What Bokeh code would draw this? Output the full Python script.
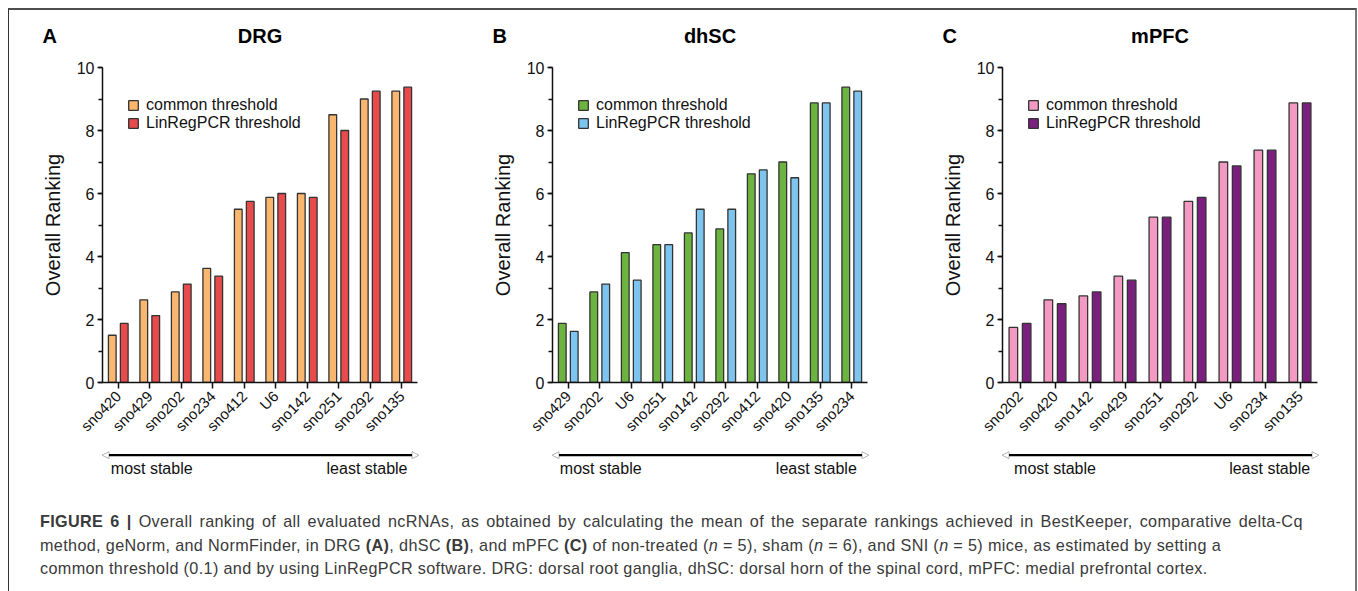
import math
from bokeh.plotting import figure
from bokeh.models import (FactorRange, Range1d, SingleIntervalTicker, Legend, LegendItem,
                          Arrow, NormalHead, Div, ColumnDataSource, Spacer)
from bokeh.core.properties import value
from bokeh.transform import dodge
from bokeh.layouts import row, column
from bokeh.embed import file_html
from bokeh.resources import INLINE

# ---------------- data ----------------
drg_genes = ["sno420", "sno429", "sno202", "sno234", "sno412", "U6", "sno142", "sno251", "sno292", "sno135"]
drg_common = [1.5, 2.625, 2.875, 3.625, 5.5, 5.875, 6.0, 8.5, 9.0, 9.25]
drg_linreg = [1.875, 2.125, 3.125, 3.375, 5.75, 6.0, 5.875, 8.0, 9.25, 9.375]

dhsc_genes = ["sno429", "sno202", "U6", "sno251", "sno142", "sno292", "sno412", "sno420", "sno135", "sno234"]
dhsc_common = [1.875, 2.875, 4.125, 4.375, 4.75, 4.875, 6.625, 7.0, 8.875, 9.375]
dhsc_linreg = [1.625, 3.125, 3.25, 4.375, 5.5, 5.5, 6.75, 6.5, 8.875, 9.25]

mpfc_genes = ["sno202", "sno420", "sno142", "sno429", "sno251", "sno292", "U6", "sno234", "sno135"]
mpfc_common = [1.75, 2.625, 2.75, 3.375, 5.25, 5.75, 7.0, 7.375, 8.875]
mpfc_linreg = [1.875, 2.5, 2.875, 3.25, 5.25, 5.875, 6.875, 7.375, 8.875]

panel_letters = ["A", "B", "C"]
panel_titles = ["DRG", "dhSC", "mPFC"]
series_labels = ["common threshold", "LinRegPCR threshold"]
y_axis_label = "Overall Ranking"
stability_labels = ["most stable", "least stable"]

# ---------------- layout constants (pixels) ----------------
FONT = "Liberation Sans"
OUTLINE = "#333333"
INK = "#111111"
CONTENT_W = 1346
FRAME_W, FRAME_H = 315, 315
B_LEFT, B_TOP, B_BOTTOM = 93, 12, 58
PANEL_W = [450, 450, 446]
TITLE_H, ARROW_H, CAP_H = 45, 48, 101
Y_MAX = 10

frame_lefts = []
acc = 0
for w in PANEL_W:
    frame_lefts.append(acc + B_LEFT)
    acc += w


def panel(genes, common, linreg, c1, c2, border_right):
    p = figure(x_range=FactorRange(factors=genes), y_range=Range1d(0, Y_MAX),
               frame_width=FRAME_W, frame_height=FRAME_H,
               min_border_left=B_LEFT, min_border_right=border_right,
               min_border_top=B_TOP, min_border_bottom=B_BOTTOM,
               output_backend="svg", toolbar_location=None, tools="", title=None)
    p.outline_line_color = None
    p.xgrid.visible = False
    p.ygrid.visible = False

    src = ColumnDataSource(dict(gene=genes, common=common, linreg=linreg))
    r1 = p.vbar(x=dodge("gene", -0.19, range=p.x_range), top="common", width=0.245, source=src,
                fill_color=c1, line_color=OUTLINE, line_width=1.3)
    r2 = p.vbar(x=dodge("gene", 0.19, range=p.x_range), top="linreg", width=0.245, source=src,
                fill_color=c2, line_color=OUTLINE, line_width=1.3)

    for ax in (p.xaxis[0], p.yaxis[0]):
        ax.axis_line_color = INK
        ax.axis_line_width = 1.5
        ax.major_tick_line_color = INK
        ax.major_tick_line_width = 1.5
        ax.minor_tick_line_color = INK
        ax.minor_tick_line_width = 1.5
        ax.major_tick_in = 0
        ax.minor_tick_in = 0
        ax.major_label_text_font = FONT
        ax.major_label_text_color = INK
    p.yaxis.ticker = SingleIntervalTicker(interval=2, num_minor_ticks=2)
    p.yaxis.major_tick_out = 5
    p.yaxis.minor_tick_out = 4
    p.yaxis.major_label_text_font_size = "16px"
    p.yaxis.major_label_standoff = 3
    p.yaxis.axis_label = y_axis_label
    p.yaxis.axis_label_text_font = FONT
    p.yaxis.axis_label_text_font_size = "20px"
    p.yaxis.axis_label_text_font_style = "normal"
    p.yaxis.axis_label_text_color = INK
    p.yaxis.axis_label_standoff = 10

    p.xaxis.major_tick_out = 6
    p.xaxis.minor_tick_out = 0
    p.xaxis.major_label_orientation = math.pi / 4
    p.xaxis.major_label_text_font_size = "15px"
    p.xaxis.major_label_standoff = 5

    legend = Legend(items=[LegendItem(label=series_labels[0], renderers=[r1]),
                           LegendItem(label=series_labels[1], renderers=[r2])],
                    location=(25, FRAME_H - 64.5), padding=0, margin=0, spacing=0,
                    glyph_width=12, glyph_height=12, label_height=18, label_standoff=7,
                    label_text_font=FONT, label_text_font_size="16px", label_text_color=INK,
                    border_line_color=None, background_fill_alpha=0)
    p.add_layout(legend)
    return p


def strip(height):
    s = figure(x_range=Range1d(0, CONTENT_W), y_range=Range1d(height, 0),
               frame_width=CONTENT_W, frame_height=height,
               min_border=0, min_border_left=0, min_border_right=0, min_border_top=0, min_border_bottom=0,
               x_axis_location=None, y_axis_location=None,
               output_backend="svg", toolbar_location=None, tools="", title=None)
    s.outline_line_color = None
    s.xgrid.visible = False
    s.ygrid.visible = False
    return s


pA = panel(drg_genes, drg_common, drg_linreg, "#F9B66F", "#E84B4B", PANEL_W[0] - B_LEFT - FRAME_W)
pB = panel(dhsc_genes, dhsc_common, dhsc_linreg, "#6DB33F", "#7DC5EE", PANEL_W[1] - B_LEFT - FRAME_W)
pC = panel(mpfc_genes, mpfc_common, mpfc_linreg, "#F49AC2", "#7A1F7E", PANEL_W[2] - B_LEFT - FRAME_W)

# ---- title strip: panel letters and titles ----
top = strip(TITLE_H)
title_base = 25
top.text(x=[fl - 60 for fl in frame_lefts], y=[title_base] * 3, text=panel_letters,
         text_align="left", text_baseline="alphabetic", text_font=value(FONT),
         text_font_size="20px", text_font_style="bold", text_color="#000000")
top.text(x=[fl + FRAME_W / 2 for fl in frame_lefts], y=[title_base] * 3, text=panel_titles,
         text_align="center", text_baseline="alphabetic", text_font=value(FONT),
         text_font_size="20px", text_font_style="bold", text_color="#000000")

# ---- arrow strip: most stable -> least stable ----
bot = strip(ARROW_H)
arrow_y = 11.7
label_base = 25
most_dx = [8.3, 7.3, 11.6]
least_dx = [305, 304.3, 307.6]
head = dict(size=7, fill_color="white", line_color="#b5b5b5", line_width=1)
for fl in frame_lefts:
    bot.add_layout(Arrow(start=NormalHead(**head), end=NormalHead(**head),
                         x_start=fl - 0.5, y_start=arrow_y, x_end=fl + FRAME_W + 1.5, y_end=arrow_y,
                         line_color="black", line_width=2.3))
bot.text(x=[fl + d for fl, d in zip(frame_lefts, most_dx)], y=[label_base] * 3,
         text=[stability_labels[0]] * 3, text_align="left", text_baseline="alphabetic",
         text_font=value(FONT), text_font_size="16px", text_color=INK)
bot.text(x=[fl + d for fl, d in zip(frame_lefts, least_dx)], y=[label_base] * 3,
         text=[stability_labels[1]] * 3, text_align="right", text_baseline="alphabetic",
         text_font=value(FONT), text_font_size="16px", text_color=INK)

caption_html = (
    "<span style='word-spacing:2.2px'><b>FIGURE 6 |</b> Overall ranking of all evaluated ncRNAs, as obtained by "
    "calculating the mean of the separate rankings achieved in BestKeeper, comparative delta-Cq</span><br>"
    "method, geNorm, and NormFinder, in DRG <b>(A)</b>, dhSC <b>(B)</b>, and mPFC <b>(C)</b> of non-treated "
    "(<i>n</i> = 5), sham (<i>n</i> = 6), and SNI (<i>n</i> = 5) mice, as estimated by setting a<br>"
    "common threshold (0.1) and by using LinRegPCR software. DRG: dorsal root ganglia, dhSC: dorsal horn "
    "of the spinal cord, mPFC: medial prefrontal cortex."
)
cap = Div(text=caption_html, width=CONTENT_W, height=CAP_H, margin=0,
          styles={"font-family": FONT, "font-size": "16.2px", "letter-spacing": "0.35px",
                  "line-height": "23.5px", "color": "#3a3a3a", "white-space": "nowrap",
                  "padding-left": "31px", "padding-top": "19px", "box-sizing": "border-box"})

content = column(top, row(pA, pB, pC), bot, cap,
                 styles={"border-top": "2px solid #4d4d4d", "border-left": "1px solid #333333",
                         "border-right": "2px solid #777777"})
layout = column(Spacer(height=8), row(Spacer(width=8), content))

open("out.html", "w").write(file_html(layout, INLINE))
